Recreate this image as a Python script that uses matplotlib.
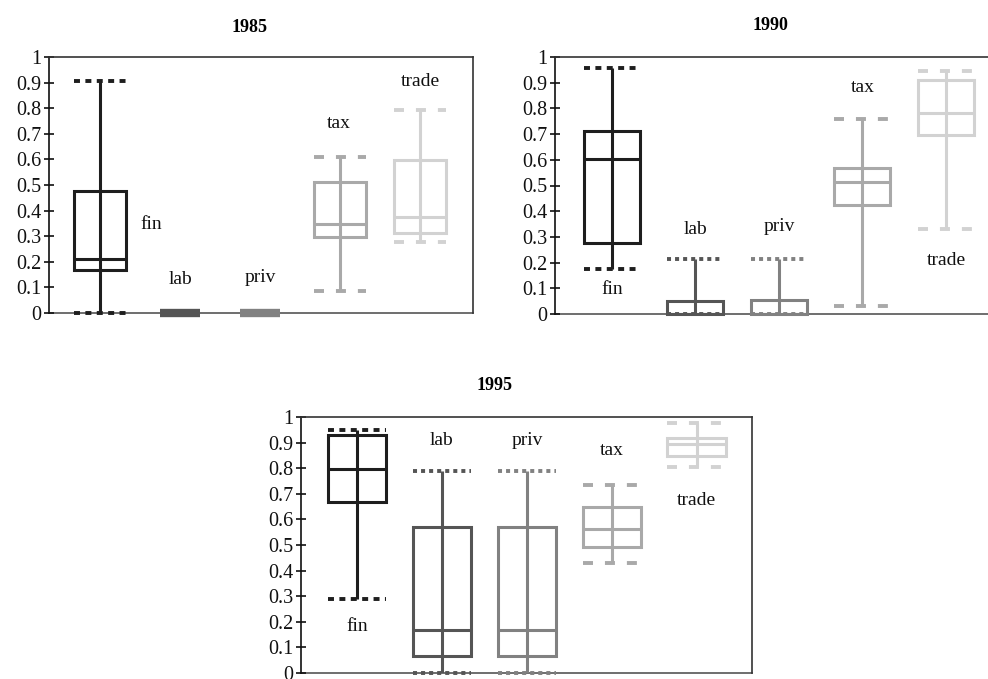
import matplotlib
matplotlib.use("Agg")
import matplotlib.pyplot as plt
from matplotlib.patches import Rectangle

plt.rcParams['font.family'] = ['Liberation Serif', 'DejaVu Serif']
plt.rcParams['lines.scale_dashes'] = False

categories = ["fin", "lab", "priv", "tax", "trade"]
years = ["1985", "1990", "1995"]

# (min, q1, median, q3, max) per category
stats_1985 = {
    "fin":   [0.000, 0.168, 0.210, 0.476, 0.906],
    "lab":   [0.000, 0.000, 0.000, 0.000, 0.000],
    "priv":  [0.000, 0.000, 0.000, 0.000, 0.000],
    "tax":   [0.085, 0.296, 0.349, 0.513, 0.611],
    "trade": [0.278, 0.311, 0.376, 0.598, 0.792],
}
stats_1990 = {
    "fin":   [0.174, 0.278, 0.605, 0.713, 0.957],
    "lab":   [0.000, 0.000, 0.000, 0.051, 0.213],
    "priv":  [0.000, 0.000, 0.000, 0.055, 0.214],
    "tax":   [0.031, 0.425, 0.512, 0.570, 0.760],
    "trade": [0.330, 0.695, 0.784, 0.912, 0.944],
}
stats_1995 = {
    "fin":   [0.290, 0.667, 0.795, 0.931, 0.948],
    "lab":   [0.000, 0.067, 0.167, 0.570, 0.791],
    "priv":  [0.000, 0.067, 0.167, 0.570, 0.791],
    "tax":   [0.431, 0.494, 0.562, 0.647, 0.735],
    "trade": [0.804, 0.846, 0.895, 0.918, 0.978],
}
# label positions (x in category units, y value)
labels_1985 = {"fin": (0.64, 0.347), "lab": (1.0, 0.13), "priv": (2.0, 0.137),
               "tax": (2.98, 0.74), "trade": (4.0, 0.905)}
labels_1990 = {"fin": (0.0, 0.096), "lab": (1.0, 0.33), "priv": (2.0, 0.342),
               "tax": (3.0, 0.882), "trade": (4.0, 0.21)}
labels_1995 = {"fin": (0.0, 0.183), "lab": (1.0, 0.908), "priv": (2.0, 0.908),
               "tax": (3.0, 0.869), "trade": (4.0, 0.673)}

yticks = [0, 0.1, 0.2, 0.3, 0.4, 0.5, 0.6, 0.7, 0.8, 0.9, 1]
ytick_labels = ["0", "0.1", "0.2", "0.3", "0.4", "0.5", "0.6", "0.7", "0.8", "0.9", "1"]

colors = {"fin": "#1e1e1e", "lab": "#555555", "priv": "#818181",
          "tax": "#a9a9a9", "trade": "#d2d2d2"}
dashes = {"fin": (4.3, 3.9), "lab": (2.9, 2.9), "priv": (2.9, 2.9),
          "tax": (7.2, 8.6), "trade": (7.2, 8.6)}

fig = plt.figure(figsize=(9.88, 6.79), dpi=100)

W, H = 988.0, 679.0
def rect(l, t, r, b):
    return [l / W, 1 - b / H, (r - l) / W, (b - t) / H]

panels = [
    (rect(49, 57, 473, 313), stats_1985, labels_1985, (-0.64, 4.66), 0.65, "1985", (250, 27)),
    (rect(555, 57, 992, 314), stats_1990, labels_1990, (-0.68, 4.55), 0.67, "1990", (770, 25)),
    (rect(301, 417, 752, 673), stats_1995, labels_1995, (-0.66, 4.65), 0.69, "1995", (495, 386)),
]

LW = 2.2
for box, stats, labs, xl, w, title, tpos in panels:
    ax = fig.add_axes(box)
    ax.set_xlim(*xl)
    ax.set_ylim(0, 1)
    for i, cat in enumerate(categories):
        lo, q1, med, q3, hi = stats[cat]
        c = colors[cat]
        if hi == 0 and q3 == 0:
            ax.plot([i - 0.25, i + 0.25], [0, 0], color=c, lw=6,
                    solid_capstyle='butt', clip_on=False, zorder=4)
            continue
        ax.vlines(i, lo, hi, color=c, lw=LW, zorder=3)
        ax.add_patch(Rectangle((i - w / 2, q1), w, q3 - q1, fill=False,
                               ec=c, lw=LW, zorder=3, clip_on=False))
        ax.hlines(med, i - w / 2, i + w / 2, color=c, lw=LW, zorder=3)
        ax.hlines([lo, hi], i - w / 2, i + w / 2, color=c, lw=LW + 0.6,
                  linestyles=[(0, dashes[cat])], zorder=3, clip_on=False)
    for cat in categories:
        x, y = labs[cat]
        ax.text(x, y, cat, ha='center', va='center', fontsize=14, color='#111111')
    ax.set_yticks(yticks)
    ax.set_yticklabels(ytick_labels)
    ax.set_xticks([])
    ax.tick_params(axis='y', direction='inout', length=7, width=1.2,
                   labelsize=14.5, pad=2, colors='#111111')
    for s in ax.spines.values():
        s.set_linewidth(1.2)
        s.set_color('#333333')
    ax.spines['left'].set_color('#111111')
    ax.spines['bottom'].set_color('#555555')
    ax.spines['bottom'].set_zorder(1)
    fig.text(tpos[0] / W, 1 - tpos[1] / H, title, ha='center', va='center',
             fontsize=13, fontweight='bold')

fig.savefig("out.png", dpi=100)
